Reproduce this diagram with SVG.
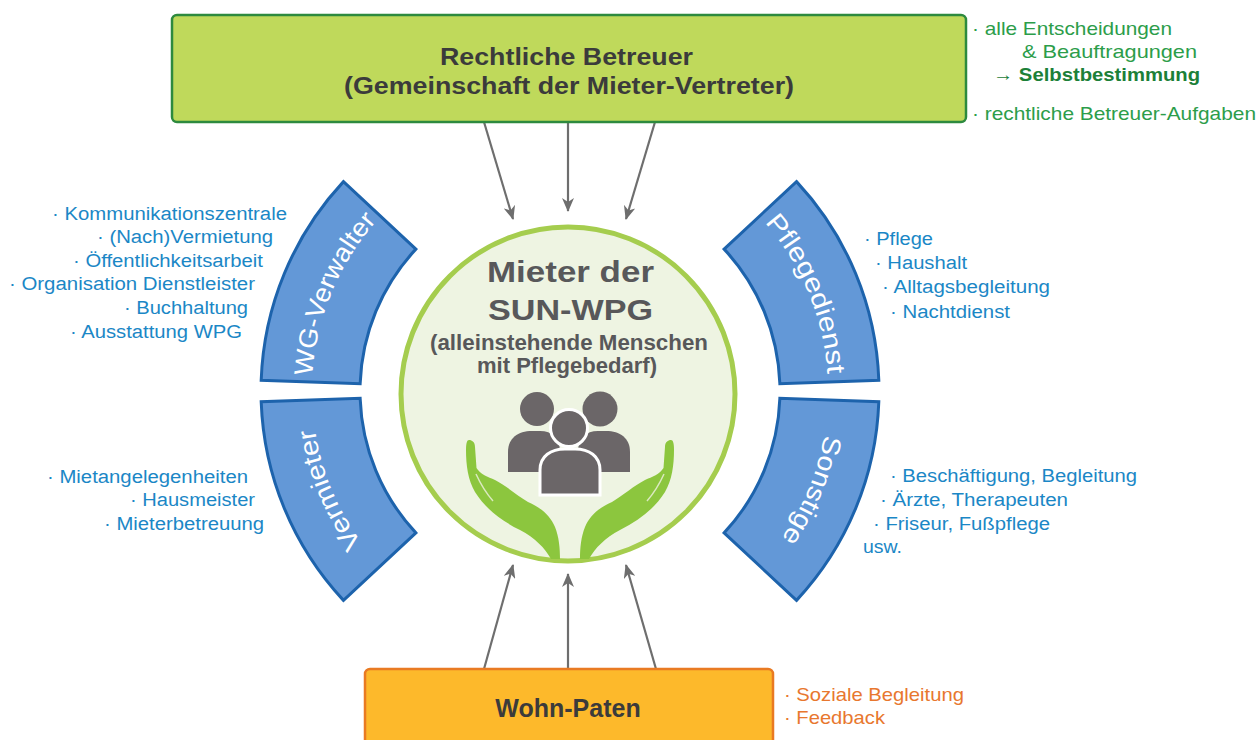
<svg xmlns="http://www.w3.org/2000/svg" width="1259" height="740" viewBox="0 0 1259 740">
<style>
  text { font-family: "Liberation Sans", Arial, sans-serif; }
  .dark { fill: #3b3b3b; font-weight: bold; }
  .ctr { fill: #58585a; font-weight: bold; }
  .blue { fill: #1b87c6; font-size: 18px; }
  .green { fill: #2c9d4a; font-size: 19px; }
  .greenb { fill: #1c8038; font-size: 19px; font-weight: bold; }
  .orange { fill: #e8772e; font-size: 19px; }
  .seg { fill: #6398d7; stroke: #1d63ac; stroke-width: 3; stroke-linejoin: miter; }
  .seglabel { fill: #ffffff; font-size: 26px; }
  .conn { stroke: #6e6e6e; stroke-width: 2.2; fill: none; marker-end: url(#ah); }
  .person { fill: #6b6668; }
  .front { fill: #6b6668; stroke: #ffffff; stroke-width: 3; }
  .hand { fill: #8cc63e; }
  .crease { stroke: #dbe9c0; stroke-width: 1.5; fill: none; }
</style>
<defs>
  <marker id="ah" viewBox="0 0 14 12" refX="13" refY="6" markerWidth="14" markerHeight="12" markerUnits="userSpaceOnUse" orient="auto">
    <path d="M0,0 L14,6 L0,12 L4,6 Z" fill="#6e6e6e"/>
  </marker>
  <path id="pWG" d="M312.16,382.07 A256,256 0 0 1 380.77,216.41"/>
  <path id="pVM" d="M380.77,565.59 A256,256 0 0 1 312.16,399.93"/>
  <path id="pPD" d="M759.23,216.41 A256,256 0 0 1 827.84,382.07"/>
  <path id="pSO" d="M827.84,399.93 A256,256 0 0 1 759.23,565.59"/>
  <path id="hand" d="M469,440 C472,440 475,442 475,447 L476.5,468 C480,474 488,477 495,480 C505,485 518,496 528,502 C541,508 550,515 555,527 C559,537 560,548 560,559 L551,559 C545,548 535,538 520,530 C500,520 485,508 475,492 C468,480 466,465 466,450 C466,443 467,440 469,440 Z"/>
</defs>

<rect width="1259" height="740" fill="#ffffff"/>

<g id="connectors">
  <line class="conn" x1="484" y1="122" x2="513" y2="219"/>
  <line class="conn" x1="568" y1="122" x2="568" y2="211"/>
  <line class="conn" x1="655" y1="122" x2="626" y2="219"/>
  <line class="conn" x1="484" y1="669" x2="513" y2="565"/>
  <line class="conn" x1="568" y1="669" x2="568" y2="574"/>
  <line class="conn" x1="656" y1="669" x2="626" y2="565"/>
</g>

<g id="rechtliche-betreuer">
  <rect x="172" y="15" width="794" height="107" rx="5" fill="#bfd95b" stroke="#2d8a3e" stroke-width="2.5"/>
  <text class="dark" x="440" y="65" font-size="23" textLength="253" lengthAdjust="spacingAndGlyphs">Rechtliche Betreuer</text>
  <text class="dark" x="344" y="94" font-size="23" textLength="450" lengthAdjust="spacingAndGlyphs">(Gemeinschaft der Mieter-Vertreter)</text>
  <text class="green" x="972" y="35" textLength="200" lengthAdjust="spacingAndGlyphs">· alle Entscheidungen</text>
  <text class="green" x="1022" y="58" textLength="175" lengthAdjust="spacingAndGlyphs">&amp; Beauftragungen</text>
  <text class="greenb" x="993" y="81" textLength="207" lengthAdjust="spacingAndGlyphs">→ Selbstbestimmung</text>
  <text class="green" x="972" y="120" textLength="284" lengthAdjust="spacingAndGlyphs">· rechtliche Betreuer-Aufgaben</text>
</g>

<g id="mieter">
  <circle cx="568" cy="394" r="167" fill="#eef4e2" stroke="#a5cd4e" stroke-width="5"/>
  <text class="ctr" x="487" y="282" font-size="30" textLength="167" lengthAdjust="spacingAndGlyphs">Mieter der</text>
  <text class="ctr" x="488" y="320" font-size="30" textLength="165" lengthAdjust="spacingAndGlyphs">SUN-WPG</text>
  <text class="ctr" x="430" y="350" font-size="22" textLength="278" lengthAdjust="spacingAndGlyphs">(alleinstehende Menschen</text>
  <text class="ctr" x="477" y="373" font-size="22" textLength="180" lengthAdjust="spacingAndGlyphs">mit Pflegebedarf)</text>
  <g id="icon">
    <circle class="person" cx="537" cy="409" r="17"/>
    <circle class="person" cx="600" cy="409" r="17.5"/>
    <path class="person" d="M508,472 L508,452 C508,438 518,431 532,431 L540,431 C552,431 560,438 560,452 L560,472 Z"/>
    <path class="person" d="M630,472 L630,452 C630,438 620,431 606,431 L598,431 C586,431 578,438 578,452 L578,472 Z"/>
    <circle class="front" cx="569" cy="428" r="18.5"/>
    <path class="front" d="M540,495 L540,470 C540,456 551,449 565,449 L575,449 C589,449 600,456 600,470 L600,495 Z"/>
    <use href="#hand" class="hand"/>
    <use href="#hand" class="hand" transform="matrix(-1 0 0 1 1140 0)"/>
    <path class="crease" d="M476,474 C481,485 486,493 493,501"/>
    <path class="crease" d="M664,474 C659,485 654,493 647,501"/>
  </g>
</g>

<g id="wg-verwalter">
  <path class="seg" d="M261.19,380.29 A307,307 0 0 1 343.48,181.63 L415.88,249.14 A208,208 0 0 0 360.13,383.74 Z"/>
  <text class="seglabel"><textPath href="#pWG" startOffset="50%" text-anchor="middle" textLength="171" lengthAdjust="spacingAndGlyphs">WG-Verwalter</textPath></text>
  <text class="blue" x="52" y="220" textLength="235" lengthAdjust="spacingAndGlyphs">· Kommunikationszentrale</text>
  <text class="blue" x="97" y="243" textLength="176" lengthAdjust="spacingAndGlyphs">· (Nach)Vermietung</text>
  <text class="blue" x="73" y="267" textLength="190" lengthAdjust="spacingAndGlyphs">· Öffentlichkeitsarbeit</text>
  <text class="blue" x="9" y="290" textLength="246" lengthAdjust="spacingAndGlyphs">· Organisation Dienstleister</text>
  <text class="blue" x="124" y="314" textLength="124" lengthAdjust="spacingAndGlyphs">· Buchhaltung</text>
  <text class="blue" x="70" y="338" textLength="172" lengthAdjust="spacingAndGlyphs">· Ausstattung WPG</text>
</g>

<g id="vermieter">
  <path class="seg" d="M343.48,600.37 A307,307 0 0 1 261.19,401.71 L360.13,398.26 A208,208 0 0 0 415.88,532.86 Z"/>
  <text class="seglabel"><textPath href="#pVM" startOffset="50%" text-anchor="middle" textLength="125" lengthAdjust="spacingAndGlyphs">Vermieter</textPath></text>
  <text class="blue" x="47" y="483" textLength="201" lengthAdjust="spacingAndGlyphs">· Mietangelegenheiten</text>
  <text class="blue" x="130" y="506" textLength="125" lengthAdjust="spacingAndGlyphs">· Hausmeister</text>
  <text class="blue" x="104" y="530" textLength="160" lengthAdjust="spacingAndGlyphs">· Mieterbetreuung</text>
</g>

<g id="pflegedienst">
  <path class="seg" d="M796.52,181.63 A307,307 0 0 1 878.81,380.29 L779.87,383.74 A208,208 0 0 0 724.12,249.14 Z"/>
  <text class="seglabel"><textPath href="#pPD" startOffset="50%" text-anchor="middle" textLength="167" lengthAdjust="spacingAndGlyphs">Pflegedienst</textPath></text>
  <text class="blue" x="864" y="245" textLength="69" lengthAdjust="spacingAndGlyphs">· Pflege</text>
  <text class="blue" x="875" y="269" textLength="92" lengthAdjust="spacingAndGlyphs">· Haushalt</text>
  <text class="blue" x="882" y="293" textLength="168" lengthAdjust="spacingAndGlyphs">· Alltagsbegleitung</text>
  <text class="blue" x="890" y="318" textLength="120" lengthAdjust="spacingAndGlyphs">· Nachtdienst</text>
</g>

<g id="sonstige">
  <path class="seg" d="M878.81,401.71 A307,307 0 0 1 796.52,600.37 L724.12,532.86 A208,208 0 0 0 779.87,398.26 Z"/>
  <text class="seglabel"><textPath href="#pSO" startOffset="50%" text-anchor="middle" textLength="113" lengthAdjust="spacingAndGlyphs">Sonstige</textPath></text>
  <text class="blue" x="890" y="482" textLength="247" lengthAdjust="spacingAndGlyphs">· Beschäftigung, Begleitung</text>
  <text class="blue" x="880" y="506" textLength="188" lengthAdjust="spacingAndGlyphs">· Ärzte, Therapeuten</text>
  <text class="blue" x="873" y="530" textLength="177" lengthAdjust="spacingAndGlyphs">· Friseur, Fußpflege</text>
  <text class="blue" x="863" y="553" textLength="39" lengthAdjust="spacingAndGlyphs">usw.</text>
</g>

<g id="wohn-paten">
  <rect x="365" y="669" width="408" height="90" rx="5" fill="#fdb92b" stroke="#e97a22" stroke-width="2.5"/>
  <text class="dark" x="568" y="717" font-size="25" text-anchor="middle">Wohn-Paten</text>
  <text class="orange" x="784" y="701" textLength="180" lengthAdjust="spacingAndGlyphs">· Soziale Begleitung</text>
  <text class="orange" x="784" y="724" textLength="101" lengthAdjust="spacingAndGlyphs">· Feedback</text>
</g>
</svg>
